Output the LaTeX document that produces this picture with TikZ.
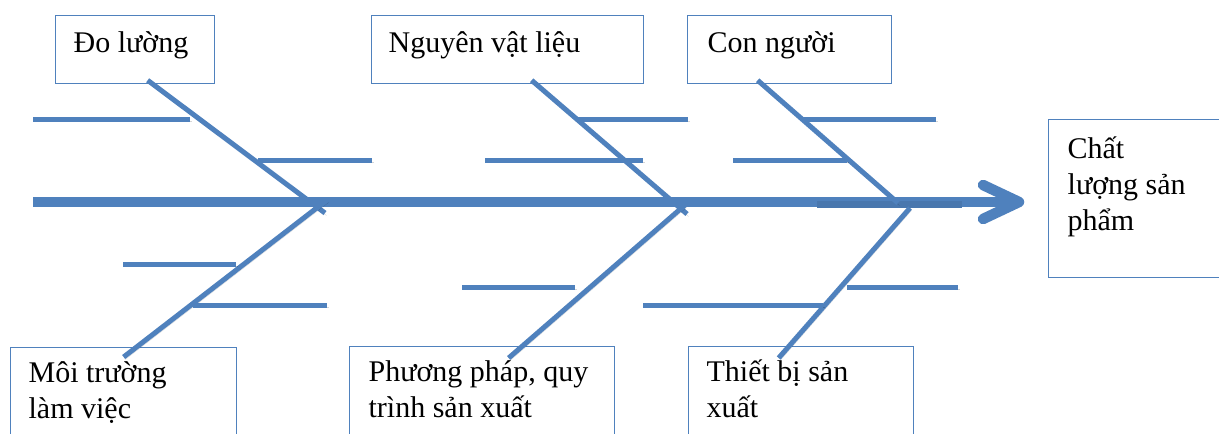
\documentclass[tikz,border=0pt]{standalone}
\usepackage{fontspec}
\setmainfont{Liberation Serif}
\definecolor{fishblue}{HTML}{4F81BD}

% text block of a cause box: width, height, left pad, first baseline, text
\newcommand{\cellbox}[5]{\parbox[t][#2][t]{#1}{\fontsize{30}{36}\selectfont\raggedright\leftskip=#3\relax\rule{0pt}{#4}#5}}

\tikzset{
  soft/.style={preaction={draw=black, draw opacity=0.16,
      transform canvas={shift={(1.5pt,-2.5pt)}}}},
  spine/.style={draw=fishblue, line width=10pt, soft},
  bone/.style={draw=fishblue, line width=5pt, soft},
  twig/.style={draw=fishblue, line width=5pt, soft},
  head/.style={draw=fishblue, line width=10.5pt, line cap=round, line join=round, soft},
  box/.style={draw=fishblue, line width=1.3pt, inner sep=0pt, anchor=north west},
}

\begin{document}
\begin{tikzpicture}[x=1pt, y=-1pt]
  \useasboundingbox (0,0) rectangle (1219,434);
  \fill[white] (0,0) rectangle (1219,434);
  \clip (0,0) rectangle (1219,434);

  % cause boxes
  \node[box] (dolu) at (55,15)   {\cellbox{159pt}{68pt}{18pt}{37pt}{Đo lường}};
  \node[box] (nvl)  at (371,15)  {\cellbox{272pt}{68pt}{17pt}{37pt}{Nguyên vật liệu}};
  \node[box] (conn) at (687,15)  {\cellbox{204pt}{68pt}{20pt}{37pt}{Con người}};
  \node[box] (moi)  at (10,347)  {\cellbox{226pt}{120pt}{18pt}{35pt}{Môi trường\\làm việc}};
  \node[box] (pp)   at (349,346) {\cellbox{265pt}{120pt}{19pt}{35pt}{Phương pháp, quy\\trình sản xuất}};
  \node[box] (tb)   at (688,346) {\cellbox{225pt}{120pt}{18pt}{35pt}{Thiết bị sản\\xuất}};
  % effect box
  \node[box] (chat) at (1048,119) {\cellbox{200pt}{158pt}{19pt}{39pt}{Chất\\lượng sản\\phẩm}};

  % spine and arrow head
  \coordinate (tail) at (33,202);
  \coordinate (tip)  at (1019,202);
  \draw[spine] (tail) -- (1010,202);
  \draw[fishblue!92!black, line width=7pt] (817,204.5) -- (962,204.5);
  \draw[head] (983,185) -- (tip) -- (983,219);

  % joints on the spine
  \coordinate (ja) at (325,213);
  \coordinate (jb) at (327,200);
  \coordinate (jc) at (687,214);
  \coordinate (jd) at (685,205);
  \coordinate (je) at (898,203);
  \coordinate (jf) at (910,208);

  % main bones
  \draw[bone] ([xshift=12.5pt,yshift=4pt]dolu.south) -- (ja);
  \draw[bone] ([xshift=24pt,yshift=4pt]nvl.south)    -- (jc);
  \draw[bone] ([xshift=-32pt,yshift=4pt]conn.south)  -- (je);
  \draw[bone] ([yshift=-10pt]moi.north)              -- (jb);
  \draw[bone] ([xshift=26.5pt,yshift=-12pt]pp.north) -- (jd);
  \draw[bone] ([xshift=-22.5pt,yshift=-12pt]tb.north) -- (jf);

  % small branches
  \draw[twig] (33,119)  -- (190,119);
  \draw[twig] (258,160) -- (372,160);
  \draw[twig] (577,119) -- (688,119);
  \draw[twig] (485,160) -- (643,160);
  \draw[twig] (803,119) -- (936,119);
  \draw[twig] (733,160) -- (847,160);
  \draw[twig] (123,264) -- (236,264);
  \draw[twig] (193,305) -- (327,305);
  \draw[twig] (462,287) -- (575,287);
  \draw[twig] (643,305) -- (823,305);
  \draw[twig] (847,287) -- (958,287);
\end{tikzpicture}
\end{document}
